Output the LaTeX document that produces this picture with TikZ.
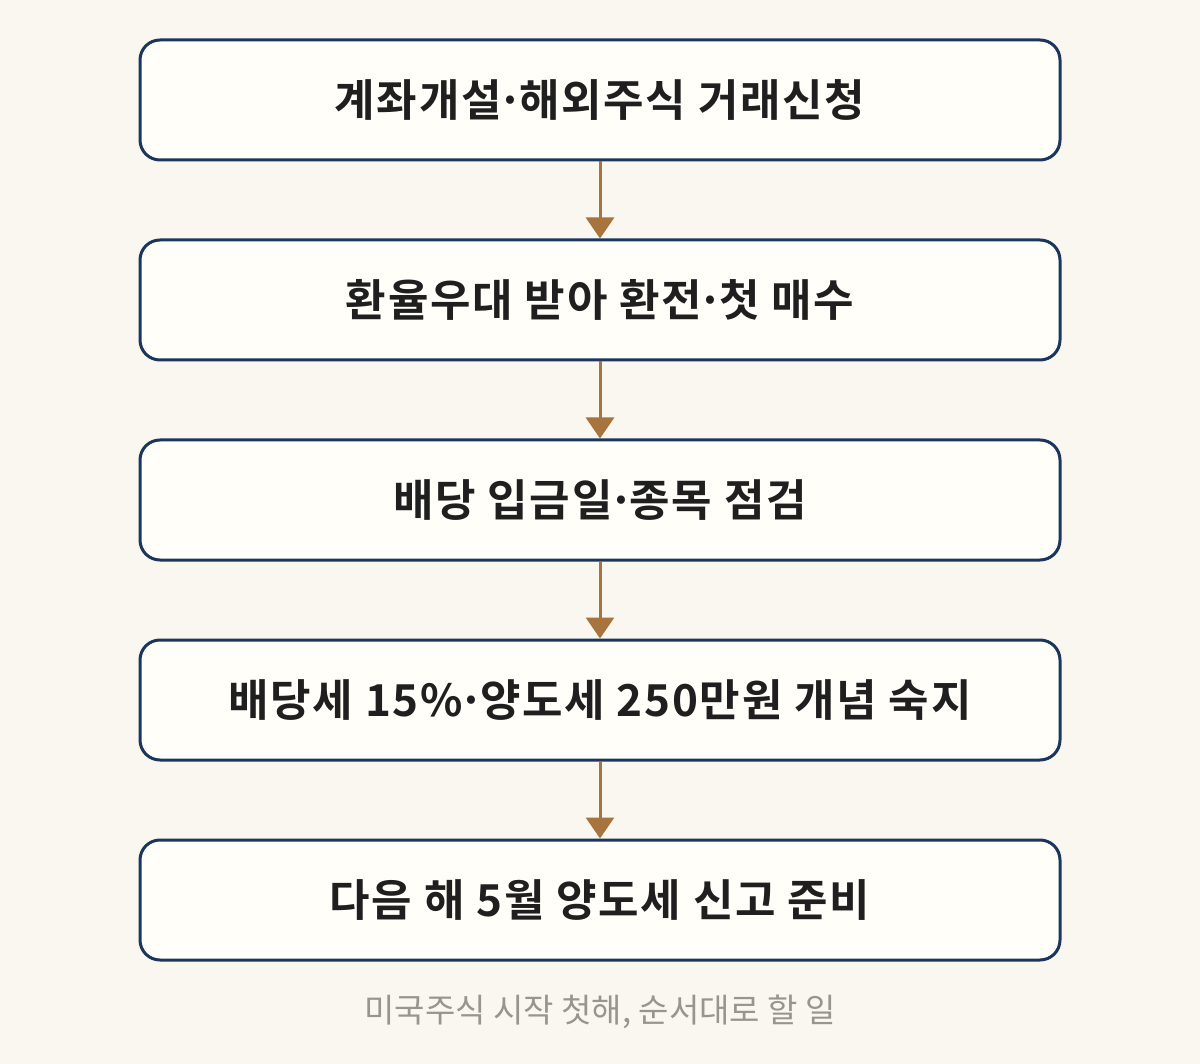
\documentclass[tikz,border=0pt]{standalone}
\usepackage{fontspec}
\newfontfamily\kr{Noto Sans CJK KR}
\newfontfamily\krb[LetterSpace=4]{Noto Sans CJK KR Bold}
\usetikzlibrary{arrows.meta}
\definecolor{bg}{HTML}{F9F7F0}
\definecolor{boxfill}{HTML}{FFFEF9}
\definecolor{navy}{HTML}{1B365D}
\definecolor{brown}{HTML}{A8743E}
\definecolor{cap}{HTML}{9A958C}
\newcommand{\md}{\kern-0.1em·\kern-0.1em}
\tikzset{
  stepbox/.style={draw=navy, line width=3pt, fill=boxfill, rounded corners=20pt,
    minimum width=920pt, minimum height=120pt, inner sep=0pt,
    font=\krb\fontsize{44pt}{48pt}\selectfont, text=black!88},
  flow/.style={draw=brown, line width=3pt, -{Triangle[width=28pt,length=21pt]}, color=brown},
  caption/.style={font=\kr\fontsize{33pt}{36pt}\selectfont, text=cap}
}
\begin{document}
\begin{tikzpicture}[x=1pt,y=-1pt]
\fill[bg] (0,0) rectangle (1200,1064);
\useasboundingbox (0,0) rectangle (1200,1064);
\node[stepbox] (s1) at (600,100) {계좌개설\md 해외주식 거래신청};
\node[stepbox] (s2) at (600,300) {환율우대 받아 환전\md 첫 매수};
\node[stepbox] (s3) at (600,500) {배당 입금일\md 종목 점검};
\node[stepbox] (s4) at (600,700) {배당세 15\%\md 양도세 250만원 개념 숙지};
\node[stepbox] (s5) at (600,900) {다음 해 5월 양도세 신고 준비};
\draw[flow] (s1.south) -- (s2.north);
\draw[flow] (s2.south) -- (s3.north);
\draw[flow] (s3.south) -- (s4.north);
\draw[flow] (s4.south) -- (s5.north);
\node[caption] (c) at (600,1012) {미국주식 시작 첫해, 순서대로 할 일};
\end{tikzpicture}
\end{document}
